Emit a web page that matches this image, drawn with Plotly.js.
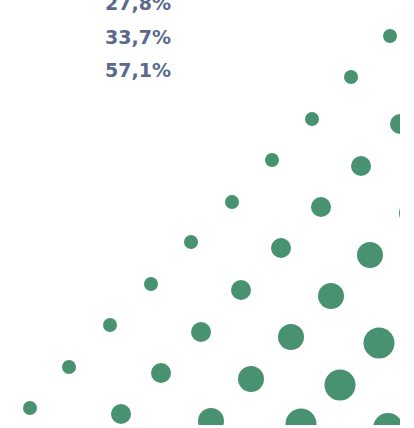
<!DOCTYPE html>
<html>
<head>
<meta charset="utf-8">
<script src="https://cdn.plot.ly/plotly-3.0.1.min.js"></script>
<style>html,body{margin:0;padding:0;background:#fff;}#chart{width:414px;height:428px;}</style>
</head>
<body>
<div id="chart"></div>
<script>
// Percentage labels (top-left)
const pctLabels = ["27,8%", "33,7%", "57,1%"];

// Bubble series (x, y in chart units; size = bubble diameter)
const seriesAx = [3.0, 6.9, 11.0, 15.1, 19.1, 23.2, 27.2, 31.2, 35.1, 39.0];
const seriesAy = [1.7, 5.8, 10.0, 14.1, 18.3, 22.3, 26.5, 30.6, 34.8, 38.9];
const seriesAsize = 14;

const seriesBx = [12.1, 16.1, 20.1, 24.1, 28.1, 32.1, 36.1, 40.0];
const seriesBy = [1.1, 5.2, 9.3, 13.5, 17.7, 21.8, 25.9, 30.1];
const seriesBsize = 20;

const seriesCx = [21.1, 25.1, 29.1, 33.1, 37.0, 41.2];
const seriesCy = [0.4, 4.6, 8.8, 12.9, 17.0, 21.2];
const seriesCsize = 26;

const seriesDx = [30.1, 34.0, 37.9];
const seriesDy = [0.1, 4.0, 8.2];
const seriesDsize = 31;

const seriesEx = [38.8];
const seriesEy = [-0.3];
const seriesEsize = 30;

const green = "#489271";

function mk(x, y, s) {
  return {
    type: "scatter", mode: "markers", x: x, y: y,
    cliponaxis: true, hoverinfo: "skip",
    marker: {size: s, color: green, line: {width: 0}}
  };
}

const data = [
  mk(seriesAx, seriesAy, seriesAsize),
  mk(seriesBx, seriesBy, seriesBsize),
  mk(seriesCx, seriesCy, seriesCsize),
  mk(seriesDx, seriesDy, seriesDsize),
  mk(seriesEx, seriesEy, seriesEsize)
];

const labelY = [0.994, 0.914, 0.836];
const annotations = pctLabels.map((t, i) => ({
  text: t, xref: "paper", yref: "paper", x: 0.257, y: labelY[i],
  xanchor: "left", yanchor: "middle", showarrow: false,
  font: {family: "DejaVu Sans", size: 19, weight: "bold", color: "#5a698c"}
}));

const layout = {
  width: 414, height: 428,
  margin: {l: 0, r: 14, t: 0, b: 3, pad: 0},
  paper_bgcolor: "#ffffff", plot_bgcolor: "#ffffff",
  showlegend: false,
  xaxis: {range: [0, 40], visible: false, showgrid: false, zeroline: false, fixedrange: true},
  yaxis: {range: [0, 42.5], visible: false, showgrid: false, zeroline: false, fixedrange: true},
  annotations: annotations
};

Plotly.newPlot("chart", data, layout, {staticPlot: true, displayModeBar: false});
</script>
</body>
</html>
